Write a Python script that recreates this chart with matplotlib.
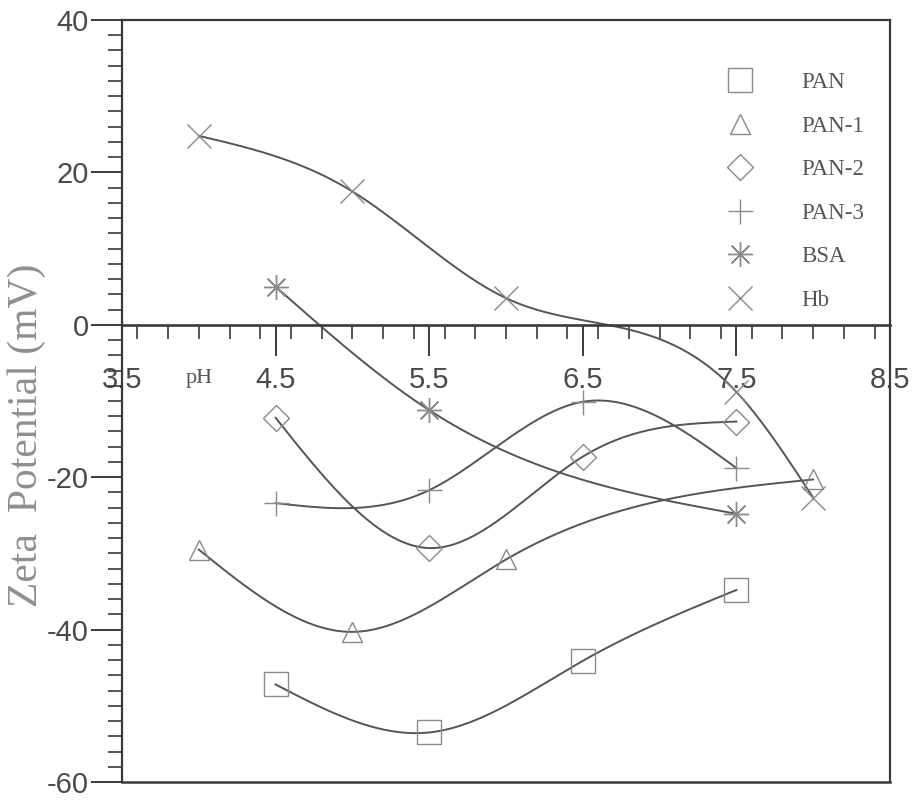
import numpy as np
import matplotlib
matplotlib.use("Agg")
import matplotlib.pyplot as plt
from matplotlib.lines import Line2D
from matplotlib.ticker import MultipleLocator, FixedLocator

plt.rcParams["axes.unicode_minus"] = False

# ---- data ----
pan_ph = [4.5, 5.5, 6.5, 7.5]
pan_zp = [-47.2, -53.5, -44.1, -34.8]

pan1_ph = [4.0, 5.0, 6.0, 8.0]
pan1_zp = [-29.5, -40.3, -30.8, -20.3]

pan2_ph = [4.5, 5.5, 6.5, 7.5]
pan2_zp = [-12.2, -29.3, -17.3, -12.7]

pan3_ph = [4.5, 5.5, 6.5, 7.5]
pan3_zp = [-23.4, -21.7, -10.1, -18.8]

bsa_ph = [4.5, 5.5, 7.5]
bsa_zp = [5.0, -11.2, -24.8]

hb_ph = [4.0, 5.0, 6.0, 7.5, 8.0]
hb_zp = [24.8, 17.5, 3.5, -8.8, -22.7]

labels = ["PAN", "PAN-1", "PAN-2", "PAN-3", "BSA", "Hb"]
xtick_vals = [3.5, 4.5, 5.5, 6.5, 7.5, 8.5]
xtick_labels = ["3.5", "4.5", "5.5", "6.5", "7.5", "8.5"]
ytick_vals = [-60, -40, -20, 0, 20, 40]


def natural_spline(x, y, n=300):
    x = np.asarray(x, float)
    y = np.asarray(y, float)
    k = len(x)
    h = np.diff(x)
    A = np.zeros((k, k))
    b = np.zeros(k)
    A[0, 0] = 1
    A[-1, -1] = 1
    for i in range(1, k - 1):
        A[i, i - 1] = h[i - 1]
        A[i, i] = 2 * (h[i - 1] + h[i])
        A[i, i + 1] = h[i]
        b[i] = 6 * ((y[i + 1] - y[i]) / h[i] - (y[i] - y[i - 1]) / h[i - 1])
    M = np.linalg.solve(A, b)
    xs = np.linspace(x[0], x[-1], n)
    idx = np.clip(np.searchsorted(x, xs) - 1, 0, k - 2)
    x0, x1 = x[idx], x[idx + 1]
    hh = x1 - x0
    t0 = x1 - xs
    t1 = xs - x0
    ys = (M[idx] * t0 ** 3 / (6 * hh) + M[idx + 1] * t1 ** 3 / (6 * hh)
          + (y[idx] / hh - M[idx] * hh / 6) * t0
          + (y[idx + 1] / hh - M[idx + 1] * hh / 6) * t1)
    return xs, ys


W, H = 918, 801
fig = plt.figure(figsize=(W / 100, H / 100), dpi=100)
ax = fig.add_axes([122 / W, (H - 782) / H, 768 / W, 762 / H])

line_c = "#555555"
mark_c = "#8a8a8a"
spine_c = "#3a3a3a"

series = [
    (pan_ph, pan_zp, dict(marker="s", markersize=17)),
    (pan1_ph, pan1_zp, dict(marker="^", markersize=15)),
    (pan2_ph, pan2_zp, dict(marker="D", markersize=13)),
    (pan3_ph, pan3_zp, dict(marker="+", markersize=18)),
    (bsa_ph, bsa_zp, dict(marker=(8, 2, 0), markersize=18)),
    (hb_ph, hb_zp, dict(marker="x", markersize=17)),
]

handles = []
for (px, py, mk), lab in zip(series, labels):
    xs, ys = natural_spline(px, py)
    ax.plot(xs, ys, color=line_c, lw=1.4, zorder=2)
    ax.plot(px, py, linestyle="none", markerfacecolor="none",
            markeredgecolor=mark_c, markeredgewidth=1.0, zorder=3, **mk)
    handles.append(Line2D([], [], linestyle="none", markerfacecolor="none",
                          markeredgecolor=mark_c, markeredgewidth=1.0, **mk))

ax.set_xlim(3.5, 8.5)
ax.set_ylim(-60, 40)

# x axis through zero
ax.spines["bottom"].set_position(("data", 0))
for s in ax.spines.values():
    s.set_color(spine_c)
    s.set_linewidth(1.6)
ax.spines["bottom"].set_linewidth(1.9)
ax.axhline(-60, color=spine_c, lw=1.8, clip_on=False, zorder=5)

ax.xaxis.set_major_locator(FixedLocator(xtick_vals))
ax.set_xticklabels(xtick_labels)
ax.xaxis.set_minor_locator(MultipleLocator(0.2))
ax.yaxis.set_major_locator(FixedLocator(ytick_vals))
ax.yaxis.set_minor_locator(MultipleLocator(2))

ax.tick_params(axis="both", which="major", direction="out", length=22,
               width=1.4, color=spine_c, labelsize=21, labelcolor="#4a4a4a")
ax.tick_params(axis="both", which="minor", direction="out", length=10,
               width=1.2, color=spine_c)
ax.tick_params(axis="x", which="major", pad=8)
ax.tick_params(axis="y", which="major", pad=2)
for t in ax.get_xticklabels() + ax.get_yticklabels():
    t.set_fontfamily("Liberation Sans")

ax.text(4.0, -7.0, "pH", fontsize=16, family="Liberation Serif",
        color="#555555", ha="center", va="center")

fig.text(27 / W, 1 - 435 / H, "Zeta  Potential (mV)", rotation=90,
         fontsize=30, family="Liberation Serif", color="#8f8f8f",
         ha="center", va="center")

leg = ax.legend(handles, labels, loc="upper left",
                bbox_to_anchor=(0.7825, 0.9315), frameon=False,
                borderpad=0, borderaxespad=0, handlelength=1.5,
                handletextpad=1.93, labelspacing=0.98,
                prop={"family": "Liberation Serif", "size": 16.5})
for t in leg.get_texts():
    t.set_color("#555555")

fig.savefig("out.png", dpi=100)
